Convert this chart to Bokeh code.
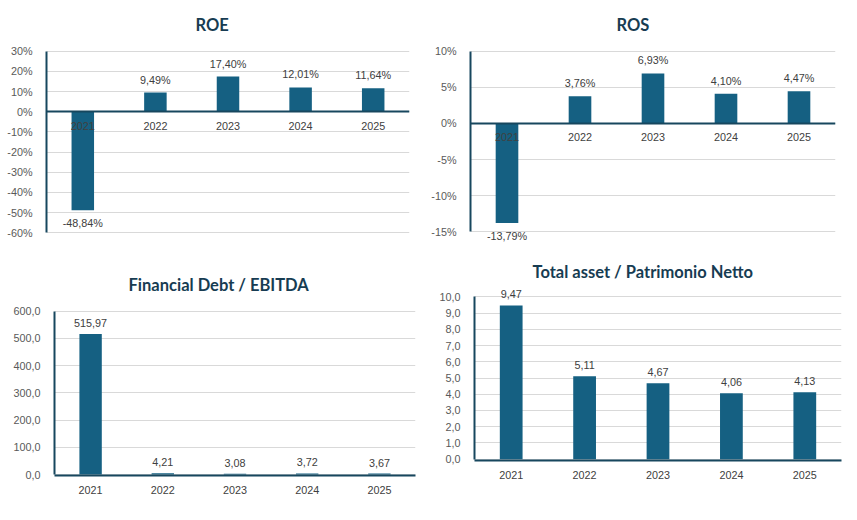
from bokeh.plotting import figure
from bokeh.layouts import column, row
from bokeh.models import FactorRange, Range1d, FixedTicker, ColumnDataSource, LabelSet
from bokeh.core.properties import value
from bokeh.embed import file_html
from bokeh.resources import INLINE

years = ["2021", "2022", "2023", "2024", "2025"]
roe = [-48.84, 9.49, 17.40, 12.01, 11.64]
ros = [-13.79, 3.76, 6.93, 4.10, 4.47]
debt_ebitda = [515.97, 4.21, 3.08, 3.72, 3.67]
asset_equity = [9.47, 5.11, 4.67, 4.06, 4.13]

roe_ticks = [-60, -50, -40, -30, -20, -10, 0, 10, 20, 30]
ros_ticks = [-15, -10, -5, 0, 5, 10]
debt_ticks = [0, 100, 200, 300, 400, 500, 600]
asset_ticks = [0, 1, 2, 3, 4, 5, 6, 7, 8, 9, 10]

BAR = "#156082"
AXIS = "#17475E"
TITLE = "#173C52"
GRID = "#D9D9D9"
TICK = "#595959"
LABEL = "#404040"
FONT = "Liberation Sans"
TFONT = "Lato"
FS = "10.8px"
TITLE_H = 23  # title panel height without standoff (2px + text box)


def it(v, dec):
    return f"{v:.{dec}f}".replace(".", ",")


def make(title, vals, ticks, tick_fmt, val_fmt, geo, zero_axis, toff):
    # geo: page-pixel layout (canvas top/bottom, frame top/bottom, grid top/bottom,
    #      frame width, left and right border)
    c_top, c_bot, f_top, f_bot, g_top, g_bot, fw, bl, br = geo
    lo, hi = ticks[0], ticks[-1]
    ppu = (g_bot - g_top) / (hi - lo)
    y1 = hi + (g_top - f_top) / ppu
    y0 = lo - (f_bot - g_bot) / ppu
    fh = f_bot - f_top
    bt = f_top - c_top
    bb = c_bot - f_bot
    p = figure(x_range=FactorRange(*years, range_padding=0),
               y_range=Range1d(y0, y1),
               frame_width=fw, frame_height=fh, output_backend="svg", toolbar_location=None,
               min_border_left=bl, min_border_right=br, min_border_top=0, min_border_bottom=bb)
    p.frame_align = False
    p.outline_line_color = None
    p.background_fill_color = "white"
    p.border_fill_color = "white"
    p.title.text = title
    p.title.align = "left"
    p.title.offset = toff
    p.title.standoff = bt - TITLE_H
    p.title.text_font = TFONT
    p.title.text_font_style = "bold"
    p.title.text_font_size = "16.5px"
    p.title.text_color = TITLE
    p.xgrid.grid_line_color = None
    p.ygrid.grid_line_color = GRID
    p.ygrid.grid_line_width = 1
    p.ygrid.ticker = FixedTicker(ticks=ticks)

    p.vbar(x=years, top=vals, bottom=0, width=0.31, color=BAR, line_color=None)

    pos = ColumnDataSource(dict(x=[x for x, v in zip(years, vals) if v >= 0],
                                y=[v for v in vals if v >= 0],
                                t=[val_fmt(v) for v in vals if v >= 0]))
    neg = ColumnDataSource(dict(x=[x for x, v in zip(years, vals) if v < 0],
                                y=[v for v in vals if v < 0],
                                t=[val_fmt(v) for v in vals if v < 0]))
    p.add_layout(LabelSet(x="x", y="y", text="t", source=pos, text_align="center",
                          text_baseline="bottom", y_offset=7, text_font=value(FONT),
                          text_font_size=value(FS), text_color=LABEL))
    p.add_layout(LabelSet(x="x", y="y", text="t", source=neg, text_align="center",
                          text_baseline="top", y_offset=-7, text_font=value(FONT),
                          text_font_size=value(FS), text_color=LABEL))

    ya = p.yaxis[0]
    ya.ticker = FixedTicker(ticks=ticks)
    ya.bounds = (lo, hi)
    ya.major_label_overrides = {t: tick_fmt(t) for t in ticks}
    ya.axis_line_color = AXIS
    ya.axis_line_width = 2
    ya.major_tick_line_color = None
    ya.minor_tick_line_color = None
    ya.major_label_text_font = FONT
    ya.major_label_text_font_size = FS
    ya.major_label_text_color = TICK
    ya.major_label_standoff = 8

    xa = p.xaxis[0]
    if zero_axis:
        xa.fixed_location = 0
    xa.axis_line_color = AXIS
    xa.axis_line_width = 2
    xa.major_tick_line_color = None
    xa.minor_tick_line_color = None
    xa.major_label_text_font = FONT
    xa.major_label_text_font_size = FS
    xa.major_label_text_color = LABEL
    xa.major_label_standoff = 4
    if not zero_axis:
        xa.bounds = (0, len(years))
    return p


pct = lambda t: f"{t}%"
pct2 = lambda v: it(v, 2) + "%"
one = lambda t: it(t, 1)
two = lambda v: it(v, 2)

a = make("ROE", roe, roe_ticks, pct, pct2,
         (0, 258, 48, 234, 51.7, 233.3, 363, 46, 19), True, 149)
b = make("ROS", ros, ros_ticks, pct, pct2,
         (0, 258, 48, 247, 51.7, 232.3, 365, 42, 14), True, 146)
c = make("Financial Debt / EBITDA", debt_ebitda, debt_ticks, one, two,
         (258, 512, 312, 477, 312.6, 476, 361, 54, 13), False, 74)
d = make("Total asset /  Patrimonio Netto", asset_equity, asset_ticks, one, two,
         (258, 512, 285, 462, 298.3, 460.7, 367, 46, 8), False, 58)

page = column(row(a, b), row(c, d))
open("out.html", "w").write(file_html(page, INLINE))
